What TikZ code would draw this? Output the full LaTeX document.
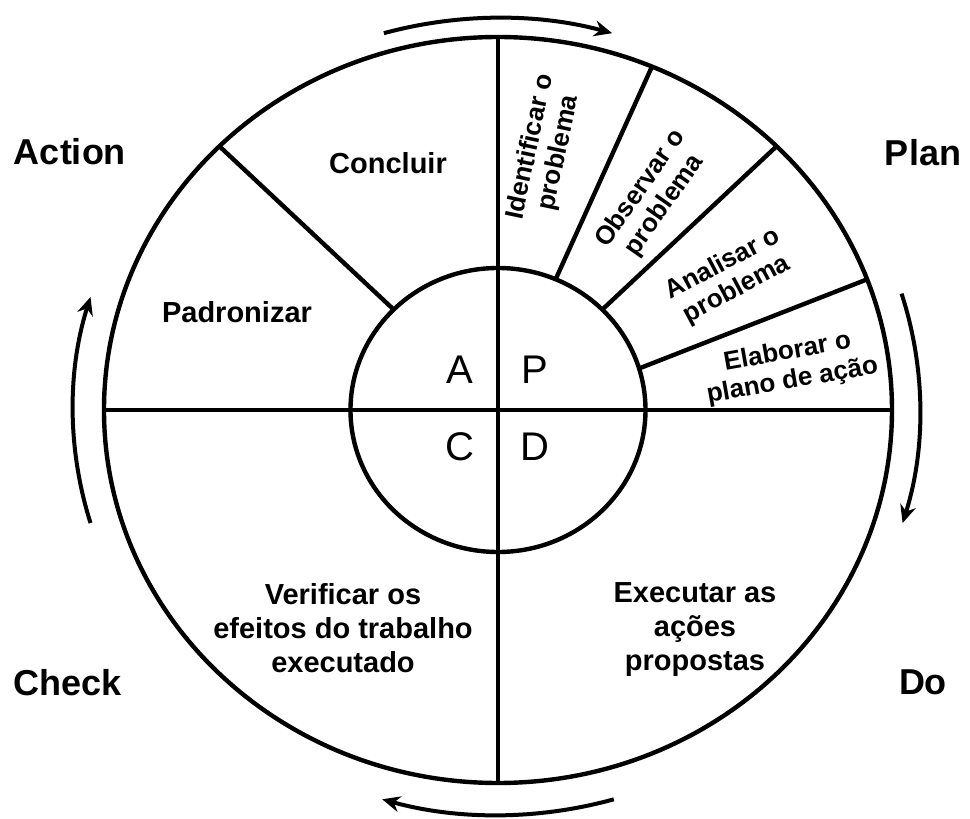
\documentclass[tikz,border=0pt]{standalone}
\usepackage{fontspec}
\setmainfont{Liberation Sans}
\usetikzlibrary{arrows.meta}

\tikzset{
  wheel/.style={line width=2.2pt},
  turn/.style={line width=2pt,-{Stealth[length=9pt,width=8pt,inset=3pt]}},
  sector/.style={font=\bfseries\fontsize{14.5}{17}\selectfont,align=center},
  slice/.style={font=\bfseries\fontsize{13}{14.5}\selectfont,align=center,inner sep=0pt},
  phase/.style={font=\bfseries\fontsize{18}{22}\selectfont},
  letter/.style={font=\fontsize{20}{24}\selectfont}
}

\begin{document}
\begin{tikzpicture}[x=0.5pt,y=0.5pt]

      \useasboundingbox (-498,-409) rectangle (472,410);

      % wheel
      \begin{scope}[wheel]
        \draw (0,0) ellipse [x radius=394, y radius=373];
        \draw (0,0) ellipse [x radius=147.5, y radius=142];
        \draw (-394,0) -- (394,0);
        \draw (0,373) -- (0,-373);
        \draw (67:147.5 and 142) -- (67:394 and 373);
        \draw (45:147.5 and 142) -- (45:394 and 373);
        \draw (17:147.5 and 142) -- (20.5:394 and 373);
        \draw (135:147.5 and 142) -- (135:394 and 373);
      \end{scope}

      % arrows round the wheel
      \draw[turn] (106:414 and 392) arc[start angle=106, end angle=74, x radius=414, y radius=392];
      \draw[turn] (17:422 and 398) arc[start angle=17, end angle=-16.5, x radius=422, y radius=398];
      \draw[turn] (-74:420 and 405) arc[start angle=-74, end angle=-106, x radius=420, y radius=405];
      \draw[turn] (196.5:425 and 398) arc[start angle=196.5, end angle=163.5, x radius=425, y radius=398];

      \begin{scope}[every node/.style=letter]
        \node (a) at (-38,40)  {A};
        \node (p) at (37,40)   {P};
        \node (c) at (-38,-37) {C};
        \node (d) at (37,-37)  {D};
      \end{scope}

      \begin{scope}[every node/.style=phase]
        \node (action) at (-428,258)  {Action};
        \node (plan)   at (425,257)   {Plan};
        \node (check)  at (-430,-273) {Check};
        \node (do)     at (425,-272)  {Do};
      \end{scope}

      \node[sector] (concluir)   at (-110,247) {Concluir};
      \node[sector] (padronizar) at (-261,98)  {Padronizar};
      \node[sector] (verificar)  at (-155,-218) {Verificar os\\efeitos do trabalho\\executado};
      \node[sector] (executar)   at (197,-220) {Executar as\\ações\\propostas};

      \node[slice,rotate=78] (identificar) at (47,260)  {Identificar o\\problema};
      \node[slice,rotate=55] (observar)    at (155,213) {Observar o\\problema};
      \node[slice,rotate=28] (analisar)    at (232,133) {Analisar o\\problema};
      \node[slice,rotate=10] (elaborar)    at (292,43)  {Elaborar o\\plano de ação};

    \end{tikzpicture}
\end{document}
